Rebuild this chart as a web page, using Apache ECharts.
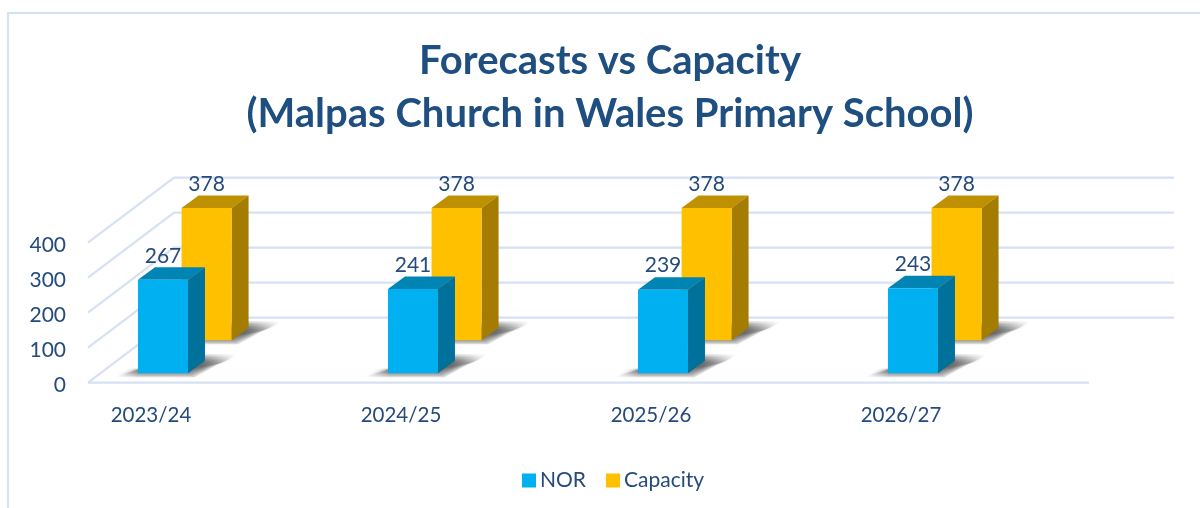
<!DOCTYPE html>
<html>
<head>
<meta charset="utf-8">
<style>
  html, body { margin: 0; padding: 0; background: #fff; }
  #chart { width: 1200px; height: 508px; }
</style>
<script src="https://cdn.jsdelivr.net/npm/echarts@6/dist/echarts.min.js"></script>
</head>
<body>
<div id="chart"></div>
<script>
const categories = ['2023/24', '2024/25', '2025/26', '2026/27'];
const norValues = [267, 241, 239, 243];
const capacityValues = [378, 378, 378, 378];
const wallTicks = [0, 100, 200, 300, 400];

const textColor = '#254a7d';
const wallColor = '#d6e1f3';

// how far the back wall sits from the front plane, in pixels
const wallDx = 86;
const wallDy = 65;

function polygon(points, fill, z2) {
  return { type: 'polygon', shape: { points: points }, style: { fill: fill }, z2: z2 };
}

function wallItem(params, api) {
  const cs = params.coordSys;
  const y = api.coord([0, api.value(0)])[1];
  const left = cs.x;
  const right = cs.x + cs.width;
  const isBase = api.value(0) === 0;
  const children = [{
    type: 'polyline',
    shape: { points: [[left, y], [left + wallDx, y - wallDy], [right + wallDx, y - wallDy]] },
    style: { stroke: wallColor, lineWidth: 2.2, fill: null }
  }];
  if (isBase) {
    children.push({
      type: 'line',
      shape: { x1: left, y1: y, x2: right + 1, y2: y },
      style: { stroke: wallColor, lineWidth: 2.2 }
    });
  }
  return { type: 'group', children: children };
}

// soft floor shadow, stacked thin layers stand in for a blur
function floorShadow(x0, x1, yBot) {
  const layers = [];
  for (let k = 0; k < 6; k++) {
    const inset = k * 1.5;
    const a = 0.2;
    const fill = new echarts.graphic.LinearGradient(0, 0, 1, 0, [
      { offset: 0, color: 'rgba(55,55,55,0)' },
      { offset: 0.2, color: 'rgba(55,55,55,' + a + ')' },
      { offset: 0.72, color: 'rgba(55,55,55,' + a + ')' },
      { offset: 1, color: 'rgba(55,55,55,0)' }
    ]);
    layers.push(polygon([
      [x0 - 24 + inset, yBot + 4 - inset],
      [x1 + 6 - inset, yBot + 4 - inset],
      [x1 + 50 - inset, yBot - 19 + inset],
      [x1 + 2 + inset, yBot - 19 + inset]
    ], fill));
  }
  return layers;
}

// draws one bar as three faces and a floor shadow; d is depth into the chart
function barRenderer(d, front, top, side) {
  return function (params, api) {
    const p = api.coord([api.value(0), api.value(1)]);
    const base = api.coord([api.value(0), 0]);
    const w = 50;
    const dx = 17;
    const dy = 12.5;
    const x0 = p[0] - 87.5 + d * wallDx;
    const x1 = x0 + w;
    const yTop = p[1] - d * wallDy;
    const yBot = base[1] - d * wallDy;
    return {
      type: 'group',
      children: floorShadow(x0, x1, yBot).concat([
        polygon([[x0, yTop], [x0 + dx, yTop - dy], [x1 + dx, yTop - dy], [x1, yTop]], top),
        polygon([[x1, yTop], [x1 + dx, yTop - dy], [x1 + dx, yBot - dy], [x1, yBot]], side),
        { type: 'rect', shape: { x: x0, y: yTop, width: w, height: yBot - yTop }, style: { fill: front } },
        {
          type: 'text',
          z2: 10,
          style: {
            x: x0 + 25, y: yTop - 24, text: String(api.value(1)),
            fill: textColor, font: '21px Lato', align: 'center', verticalAlign: 'middle'
          }
        }
      ])
    };
  };
}

function toRows(values) {
  return values.map((v, i) => [i, v]);
}

const chart = echarts.init(document.getElementById('chart'));
chart.setOption({
  animation: false,
  backgroundColor: '#fff',
  textStyle: { fontFamily: 'Lato' },
  title: {
    text: 'Forecasts vs Capacity\n(Malpas Church in Wales Primary School)',
    left: 605,
    top: 30,
    textAlign: 'center',
    textStyle: { fontFamily: 'Lato', fontSize: 40, fontWeight: 'bold', color: '#1f4e80', lineHeight: 53 }
  },
  legend: {
    data: [
      { name: 'NOR', icon: 'rect', itemStyle: { color: '#00b0f0' } },
      { name: 'Capacity', icon: 'rect', itemStyle: { color: '#ffc000' } }
    ],
    left: 517,
    top: 465,
    itemWidth: 14,
    itemHeight: 14,
    itemGap: 20,
    textStyle: { fontFamily: 'Lato', fontSize: 21, color: textColor, padding: [0, 0, 0, -1] }
  },
  grid: { left: 88, top: 242.7, width: 1000, height: 140 },
  xAxis: {
    type: 'category',
    data: categories,
    axisLine: { show: false },
    axisTick: { show: false },
    axisLabel: { color: textColor, fontFamily: 'Lato', fontSize: 20.5, margin: 22, padding: [0, 124, 0, 0] }
  },
  yAxis: {
    type: 'value',
    min: 0,
    max: 400,
    interval: 100,
    axisLine: { show: false },
    axisTick: { show: false },
    splitLine: { show: false },
    axisLabel: { color: textColor, fontFamily: 'Lato', fontSize: 21, margin: 22, verticalAlign: 'top', lineHeight: 5 }
  },
  series: [
    {
      name: 'wall',
      type: 'custom',
      silent: true,
      z: 1,
      data: wallTicks.map(v => [v]),
      encode: { y: 0 },
      renderItem: wallItem
    },
    {
      name: 'Capacity',
      type: 'custom',
      z: 2,
      data: toRows(capacityValues),
      encode: { x: 0, y: 1 },
      renderItem: barRenderer(0.652, '#ffc000', '#bf9000', '#a37c00')
    },
    {
      name: 'NOR',
      type: 'custom',
      z: 3,
      data: toRows(norValues),
      encode: { x: 0, y: 1 },
      renderItem: barRenderer(0.145, '#00b0f0', '#0084b4', '#00719b')
    }
  ],
  graphic: [
    {
      type: 'polyline',
      silent: true,
      shape: { points: [[8, 508], [8, 13], [1200, 13]] },
      style: { stroke: '#d2e1f3', lineWidth: 2, fill: null }
    }
  ]
});
</script>
</body>
</html>
